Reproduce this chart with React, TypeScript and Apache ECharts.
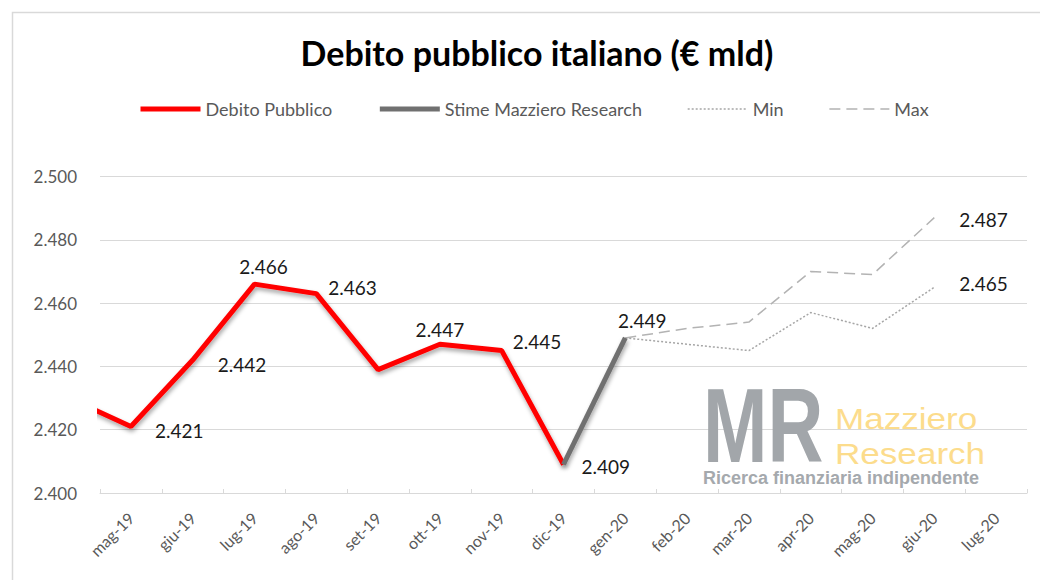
import React, { useEffect, useRef } from 'react';
import * as echarts from 'echarts';

// ---- Data ----
const categories = ['mag-19', 'giu-19', 'lug-19', 'ago-19', 'set-19', 'ott-19', 'nov-19', 'dic-19', 'gen-20', 'feb-20', 'mar-20', 'apr-20', 'mag-20', 'giu-20', 'lug-20'];
const allMonths = ['apr-19', ...categories]; // apr-19 lies before the visible axis range

const debitoMonths = ['apr-19', 'mag-19', 'giu-19', 'lug-19', 'ago-19', 'set-19', 'ott-19', 'nov-19', 'dic-19'];
const debitoValues = [2430, 2421, 2442, 2466, 2463, 2439, 2447, 2445, 2409];

const stimeMonths = ['dic-19', 'gen-20'];
const stimeValues = [2409, 2449];

const forecastMonths = ['gen-20', 'feb-20', 'mar-20', 'apr-20', 'mag-20', 'giu-20'];
const minValues = [2449, 2447, 2445, 2457, 2452, 2465];
const maxValues = [2449, 2452, 2454, 2470, 2469, 2487];

const yMin = 2400;
const yMax = 2500;
const yStep = 20;

// ---- Label placement (style only) ----
type Place = [string, number, number];
const debitoLabels: Record<string, Place> = {
  'mag-19': ['right', 19, 4],
  'giu-19': ['right', 20, 4],
  'lug-19': ['top', 9, -3],
  'ago-19': ['right', 7, -6],
  'ott-19': ['top', 0, 0],
  'nov-19': ['right', 6, -9],
  'dic-19': ['right', 13, 2],
};
const stimeLabels: Record<string, Place> = { 'gen-20': ['top', 17, -3] };
const minLabels: Record<string, Place> = { 'giu-20': ['right', 20, -4] };
const maxLabels: Record<string, Place> = { 'giu-20': ['right', 20, 2] };

const FONT = 'Lato, "Open Sans", sans-serif';
const LOGO_FONT = '"Liberation Sans", Arial, sans-serif';

const fmt = (v: number) => `${Math.floor(v / 1000)}.${String(Math.round(v) % 1000).padStart(3, '0')}`;
const idx = (m: string) => allMonths.indexOf(m) - 1;

function buildData(months: string[], values: number[], labels: Record<string, Place>) {
  return months.map((m, i) => {
    const p = labels[m];
    const item: any = { value: [idx(m), values[i]] };
    if (p) {
      item.label = {
        show: true,
        position: p[0],
        offset: [p[1], p[2]],
        formatter: (d: any) => fmt(d.value[1]),
        fontFamily: FONT,
        fontSize: 19,
        color: '#1a1a1a',
        opacity: 1,
      };
    }
    return item;
  });
}

const shadow = {
  shadowColor: 'rgba(0,0,0,0.35)',
  shadowBlur: 4,
  shadowOffsetX: 1,
  shadowOffsetY: 3,
};

const baseLine = {
  type: 'line',
  xAxisIndex: 1,
  clip: true,
  showSymbol: true,
  symbol: 'circle',
  symbolSize: 0.01,
  itemStyle: { color: 'transparent', borderWidth: 0 },
  label: { show: false },
};

export default function App() {
  const ref = useRef<HTMLDivElement>(null);

  useEffect(() => {
    if (!ref.current) return;
    const chart = echarts.init(ref.current, undefined, { renderer: 'svg' });
    const option: any = {
      animation: false,
      backgroundColor: '#ffffff',
      title: {
        text: 'Debito pubblico italiano (€ mld)',
        left: 532,
        top: 30,
        textAlign: 'center',
        textStyle: { fontFamily: FONT, fontWeight: 'bold', fontSize: 34, color: '#000' },
      },
      legend: {
        left: 133,
        top: 95,
        itemWidth: 60,
        itemHeight: 12,
        itemGap: 45,
        itemStyle: { opacity: 0 },
        lineStyle: { width: 'inherit' },
        textStyle: { fontFamily: FONT, fontSize: 18, color: '#595959' },
        data: ['Debito Pubblico', 'Stime Mazziero Research', 'Min', 'Max'],
      },
      grid: { left: 100, right: 13, top: 176.5, bottom: 87, containLabel: false },
      xAxis: [
        {
          type: 'category',
          data: categories,
          boundaryGap: true,
          axisLine: { show: true, lineStyle: { color: '#d9d9d9', width: 1 } },
          axisTick: { show: true, inside: true, length: 4, interval: 0, alignWithLabel: false, lineStyle: { color: '#d9d9d9' } },
          axisLabel: { rotate: 45, interval: 0, margin: 22, fontFamily: FONT, fontSize: 16, color: '#595959' },
          splitLine: { show: false },
        },
        {
          type: 'value',
          show: false,
          min: -0.5,
          max: categories.length - 0.5,
        },
      ],
      yAxis: {
        type: 'value',
        min: yMin,
        max: yMax,
        interval: yStep,
        axisLine: { show: false },
        axisTick: { show: false },
        axisLabel: { formatter: (v: number) => fmt(v), margin: 23, fontFamily: FONT, fontSize: 17, color: '#595959' },
        splitLine: { lineStyle: { color: '#d9d9d9', width: 1 } },
      },
      series: [
        {
          ...baseLine,
          name: 'Debito Pubblico',
          color: '#ff0000',
          lineStyle: { color: '#ff0000', width: 5, ...shadow },
          data: buildData(debitoMonths, debitoValues, debitoLabels),
          z: 3,
        },
        {
          ...baseLine,
          name: 'Stime Mazziero Research',
          color: '#707070',
          lineStyle: { color: '#707070', width: 5, ...shadow },
          data: buildData(stimeMonths, stimeValues, stimeLabels),
          z: 4,
        },
        {
          ...baseLine,
          name: 'Min',
          color: '#a6a6a6',
          lineStyle: { color: '#a6a6a6', width: 1.5, type: [2, 2] },
          data: buildData(forecastMonths, minValues, minLabels),
          z: 2,
        },
        {
          ...baseLine,
          name: 'Max',
          color: '#b3b3b3',
          lineStyle: { color: '#b3b3b3', width: 1.5, type: [11, 6] },
          data: buildData(forecastMonths, maxValues, maxLabels),
          z: 2,
        },
      ],
      graphic: [
        {
          type: 'rect',
          silent: true,
          shape: { x: 12.5, y: 12.5, width: 1100, height: 700 },
          style: { fill: 'none', stroke: '#d9d9d9', lineWidth: 1.5 },
          z: 0,
        },
        {
          type: 'text',
          x: 703,
          y: 425,
          scaleX: 0.73,
          style: { text: 'MR', fontFamily: LOGO_FONT, fontWeight: 'bold', fontSize: 106, fill: '#a2a6aa', verticalAlign: 'middle', align: 'left' },
          z: 1,
        },
        {
          type: 'text',
          x: 835,
          y: 418.5,
          scaleX: 1.17,
          style: { text: 'Mazziero', fontFamily: LOGO_FONT, fontSize: 30, fill: '#fcdc8c', verticalAlign: 'middle', align: 'left' },
          z: 1,
        },
        {
          type: 'text',
          x: 835,
          y: 453.5,
          scaleX: 1.17,
          style: { text: 'Research', fontFamily: LOGO_FONT, fontSize: 30, fill: '#fcdc8c', verticalAlign: 'middle', align: 'left' },
          z: 1,
        },
        {
          type: 'text',
          x: 703,
          y: 478,
          style: { text: 'Ricerca finanziaria indipendente', fontFamily: LOGO_FONT, fontWeight: 'bold', fontSize: 18, fill: '#a5a9ad', verticalAlign: 'middle', align: 'left' },
          z: 1,
        },
      ],
    };
    chart.setOption(option);
    return () => chart.dispose();
  }, []);

  return (
    <div
      ref={ref}
      style={{ position: 'fixed', left: 0, top: 0, width: 1040, height: 580, background: '#fff' }}
    />
  );
}
